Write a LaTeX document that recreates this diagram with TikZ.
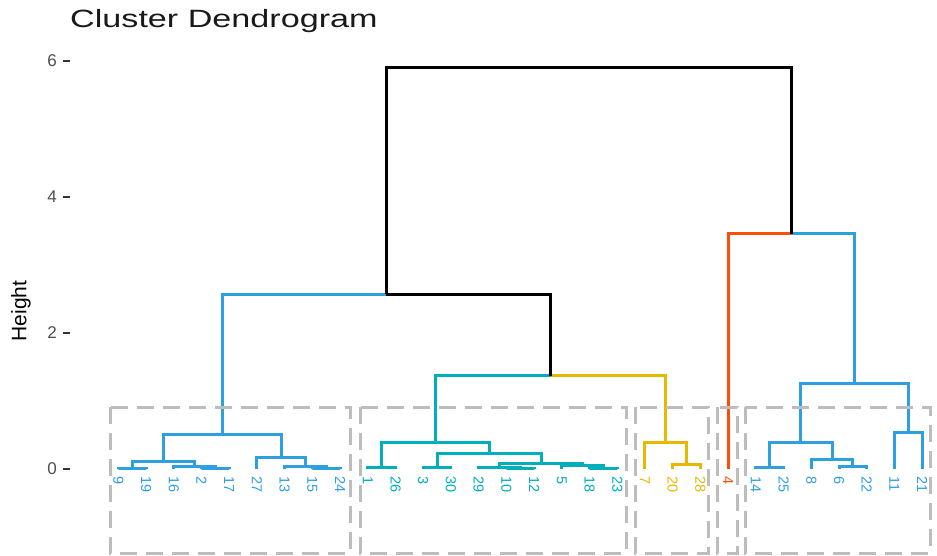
\documentclass[tikz,border=0pt]{standalone}
\usepackage{fontspec}
\setmainfont{Liberation Sans}
\usetikzlibrary{calc}
\definecolor{cB}{HTML}{2E9FDF}
\definecolor{cC}{HTML}{00AFBB}
\definecolor{cY}{HTML}{E7B800}
\definecolor{cR}{HTML}{FC4E07}
\definecolor{cK}{HTML}{000000}
\definecolor{rectgray}{HTML}{BDBDBD}
\definecolor{axgray}{HTML}{4D4D4D}
\definecolor{tickgray}{HTML}{333333}
\newcommand\dmerge[5]{\draw[br,#4] (#1) -| (#2); \draw[br,#5] (#1) -| (#3);}
\begin{document}
\begin{tikzpicture}[x=1pt,y=-1pt,
  br/.style={line width=3pt},
  leaf/.style={inner sep=0.5pt, font=\fontsize{14.5}{16}\selectfont},
  clrect/.style={draw=rectgray, line width=3pt, dash pattern=on 17pt off 9pt},
  ticklab/.style={anchor=east, inner sep=0pt, text=axgray, font=\fontsize{17}{20}\selectfont},
  tickmark/.style={draw=tickgray, line width=1.5pt}]
\useasboundingbox (0,0) rectangle (937,556);
% title and axis
\node[anchor=base west, inner sep=0pt, font=\fontsize{25}{30}\selectfont, text=black!90] (title) at (70,28) {\scalebox{1.366}[1]{Cluster Dendrogram}};
\node[rotate=90, inner sep=0pt, font=\fontsize{21}{25}\selectfont] (ylab) at (21,311) {Height};
\foreach \h in {0,2,4,6}{
  \coordinate (ta\h) at (63,{469-68*\h});
  \coordinate (tb\h) at (70,{469-68*\h});
  \draw[tickmark] (ta\h) -- (tb\h);
  \node[ticklab] (tl\h) at (57,{469-68*\h}) {\h};
}
% leaves
\foreach \lab/\col [count=\i] in {9/cB,19/cB,16/cB,2/cB,17/cB,27/cB,13/cB,15/cB,24/cB,1/cC,26/cC,3/cC,30/cC,29/cC,10/cC,12/cC,5/cC,18/cC,23/cC,7/cY,20/cY,28/cY,4/cR,14/cB,25/cB,8/cB,6/cB,22/cB,11/cB,21/cB}{
  \coordinate (l\i) at ({118.3+27.72*(\i-1)},469);
  \node[leaf, text=\col, anchor=west, rotate=-90] (t\i) at ({118.3+27.72*(\i-1)},476) {\lab};
}
% merge points
\coordinate (a1) at (132.2,468);
\coordinate (a2) at (215.3,468.3);
\coordinate (a3) at (194.5,466);
\coordinate (a4) at (163.3,461);
\coordinate (a5) at (326.2,468.3);
\coordinate (a6) at (305.4,466.5);
\coordinate (a7) at (281.2,457);
\coordinate (a8) at (222.2,434.5);
\coordinate (b1) at (381.7,467.5);
\coordinate (b2) at (437.1,467);
\coordinate (b3) at (520.2,468.3);
\coordinate (b4) at (499.5,467.3);
\coordinate (b5) at (603.4,468.3);
\coordinate (b6) at (582.6,465);
\coordinate (b7) at (541.0,463);
\coordinate (b8) at (489.1,453);
\coordinate (b9) at (435.4,442.5);
\coordinate (c1) at (686.6,464.5);
\coordinate (c2) at (665.8,442);
\coordinate (d1) at (769.7,467.5);
\coordinate (d2) at (852.9,466.5);
\coordinate (d3) at (832.1,459);
\coordinate (d4) at (800.9,442);
\coordinate (d5) at (908.3,432);
\coordinate (d6) at (854.6,383);
\coordinate (e1) at (550.6,375.5);
\coordinate (e2) at (386.4,294);
\coordinate (e3) at (791.4,234);
\coordinate (e4) at (588.9,68);
% left blue cluster
\dmerge{a1}{l1}{l2}{cB}{cB}
\dmerge{a2}{l4}{l5}{cB}{cB}
\dmerge{a3}{l3}{a2}{cB}{cB}
\dmerge{a4}{a1}{a3}{cB}{cB}
\dmerge{a5}{l8}{l9}{cB}{cB}
\dmerge{a6}{l7}{a5}{cB}{cB}
\dmerge{a7}{l6}{a6}{cB}{cB}
\dmerge{a8}{a4}{a7}{cB}{cB}
% cyan cluster
\dmerge{b1}{l10}{l11}{cC}{cC}
\dmerge{b2}{l12}{l13}{cC}{cC}
\dmerge{b3}{l15}{l16}{cC}{cC}
\dmerge{b4}{l14}{b3}{cC}{cC}
\dmerge{b5}{l18}{l19}{cC}{cC}
\dmerge{b6}{l17}{b5}{cC}{cC}
\dmerge{b7}{b4}{b6}{cC}{cC}
\dmerge{b8}{b2}{b7}{cC}{cC}
\dmerge{b9}{b1}{b8}{cC}{cC}
% yellow cluster
\dmerge{c1}{l21}{l22}{cY}{cY}
\dmerge{c2}{l20}{c1}{cY}{cY}
% right blue cluster
\dmerge{d1}{l24}{l25}{cB}{cB}
\dmerge{d2}{l27}{l28}{cB}{cB}
\dmerge{d3}{l26}{d2}{cB}{cB}
\dmerge{d4}{d1}{d3}{cB}{cB}
\dmerge{d5}{l29}{l30}{cB}{cB}
\dmerge{d6}{d4}{d5}{cB}{cB}
% upper merges
\dmerge{e1}{b9}{c2}{cC}{cY}
\dmerge{e2}{a8}{e1}{cB}{cK}
\dmerge{e3}{l23}{d6}{cR}{cB}
\dmerge{e4}{e2}{e3}{cK}{cK}
% cluster rectangles
\coordinate (r1a) at (110,407); \coordinate (r1b) at (350,553);
\coordinate (r2a) at (360,407); \coordinate (r2b) at (626,553);
\coordinate (r3a) at (635,407); \coordinate (r3b) at (708,553);
\coordinate (r4a) at (717,407); \coordinate (r4b) at (737,553);
\coordinate (r5a) at (745,407); \coordinate (r5b) at (930,553);
\foreach \r in {1,...,5}{ \draw[clrect] (r\r a) rectangle (r\r b); }
\end{tikzpicture}
\end{document}
